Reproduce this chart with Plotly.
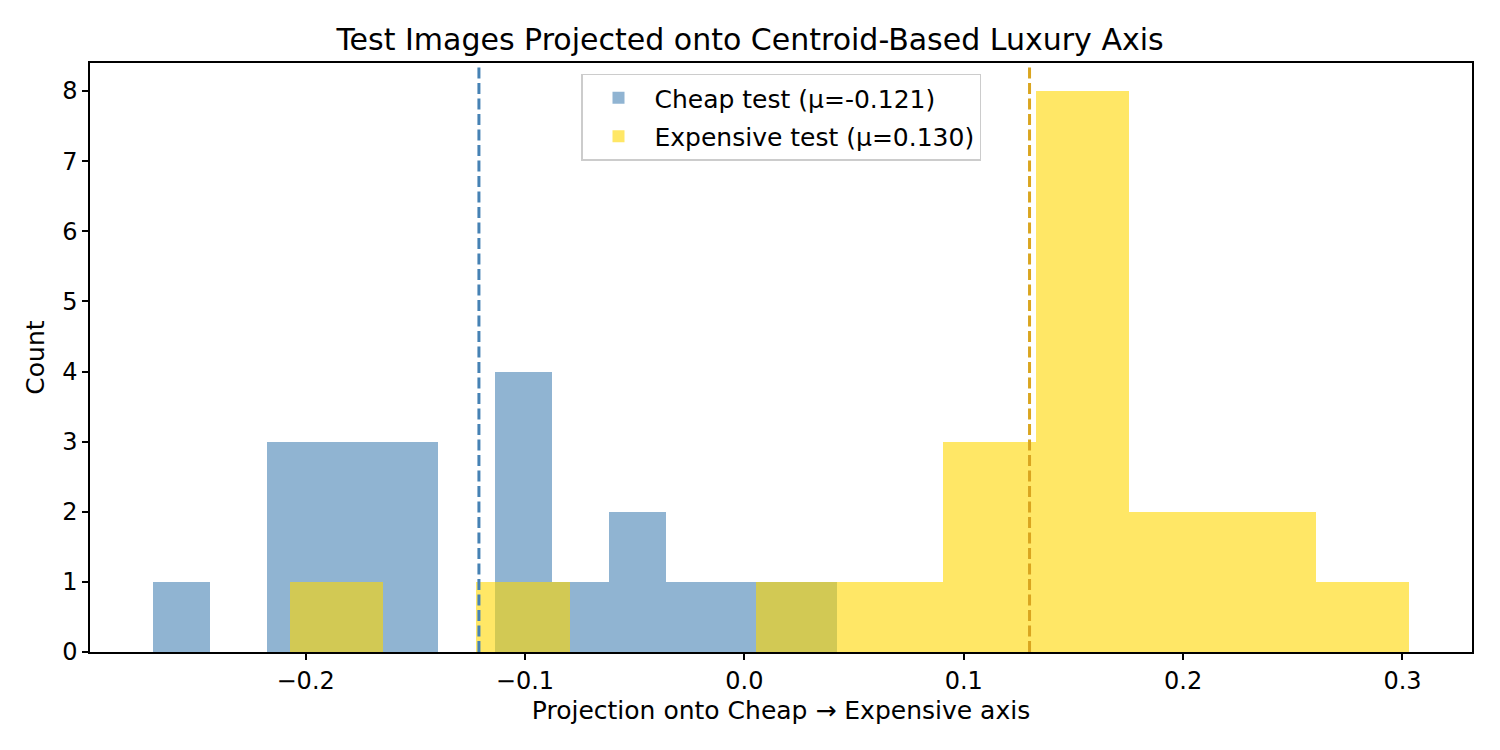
import plotly.graph_objects as go

# Histogram data (12 bins per series)
cheap_first_edge = -0.2697
cheap_bin_width = 0.02601
cheap_counts = [1, 0, 3, 3, 3, 0, 4, 1, 2, 1, 1, 1]
cheap_mean = -0.121

exp_first_edge = -0.2073
exp_bin_width = 0.04253
exp_counts = [1, 0, 1, 0, 0, 1, 1, 3, 8, 2, 2, 1]
exp_mean = 0.130

x_ticks = [-0.2, -0.1, 0.0, 0.1, 0.2, 0.3]
y_ticks = [0, 1, 2, 3, 4, 5, 6, 7, 8]

def centers(first, width, n):
    return [first + width * (i + 0.5) for i in range(n)]

FONT = "DejaVu Sans"

fig = go.Figure()
fig.add_trace(go.Bar(
    x=centers(cheap_first_edge, cheap_bin_width, len(cheap_counts)),
    y=cheap_counts, width=cheap_bin_width,
    marker=dict(color="rgba(70,130,180,0.6)", line=dict(width=0)),
    name=f"Cheap test (μ={cheap_mean:.3f})", legendgroup="a",
))
fig.add_trace(go.Bar(
    x=centers(exp_first_edge, exp_bin_width, len(exp_counts)),
    y=exp_counts, width=exp_bin_width,
    marker=dict(color="rgba(255,215,0,0.6)", line=dict(width=0)),
    name=f"Expensive test (μ={exp_mean:.3f})", legendgroup="b",
))

fig.add_shape(type="line", xref="x", yref="paper", x0=cheap_mean, x1=cheap_mean,
              y0=0, y1=1, line=dict(color="steelblue", width=3, dash="11px,4.5px"),
              layer="above")
fig.add_shape(type="line", xref="x", yref="paper", x0=exp_mean, x1=exp_mean,
              y0=0, y1=1, line=dict(color="goldenrod", width=3, dash="11px,4.5px"),
              layer="above")

fig.update_layout(
    width=1500, height=750,
    margin=dict(l=90, r=28, t=63, b=98),
    paper_bgcolor="white", plot_bgcolor="white",
    barmode="overlay", bargap=0,
    font=dict(family=FONT, size=24, color="black"),
    title=dict(text="Test Images Projected onto Centroid-Based Luxury Axis",
               x=0.5, xanchor="center", y=0.947, yanchor="middle",
               font=dict(size=30, family=FONT, color="black")),
    legend=dict(x=0.5, xanchor="center", y=0.982, yanchor="top",
                bgcolor="rgba(255,255,255,0.8)", bordercolor="#cccccc", borderwidth=1.5,
                font=dict(size=25, family=FONT), tracegroupgap=3,
                traceorder="grouped", itemwidth=62),
    xaxis=dict(range=[-0.2983, 0.3317], tickvals=x_ticks, tickformat=".1f",
               showgrid=False, zeroline=False, showline=True, linecolor="black",
               linewidth=1.5, mirror=True, ticks="outside", ticklen=6, tickwidth=1.5,
               tickcolor="black", tickfont=dict(size=24),
               title=dict(text="Projection onto Cheap → Expensive axis",
                          font=dict(size=25), standoff=8)),
    yaxis=dict(range=[0, 8.4], tickvals=y_ticks,
               showgrid=False, zeroline=False, showline=True, linecolor="black",
               linewidth=1.5, mirror=True, ticks="outside", ticklen=6, tickwidth=1.5,
               tickcolor="black", tickfont=dict(size=24),
               title=dict(text="Count", font=dict(size=25), standoff=10)),
)

fig.write_html("out.html")
